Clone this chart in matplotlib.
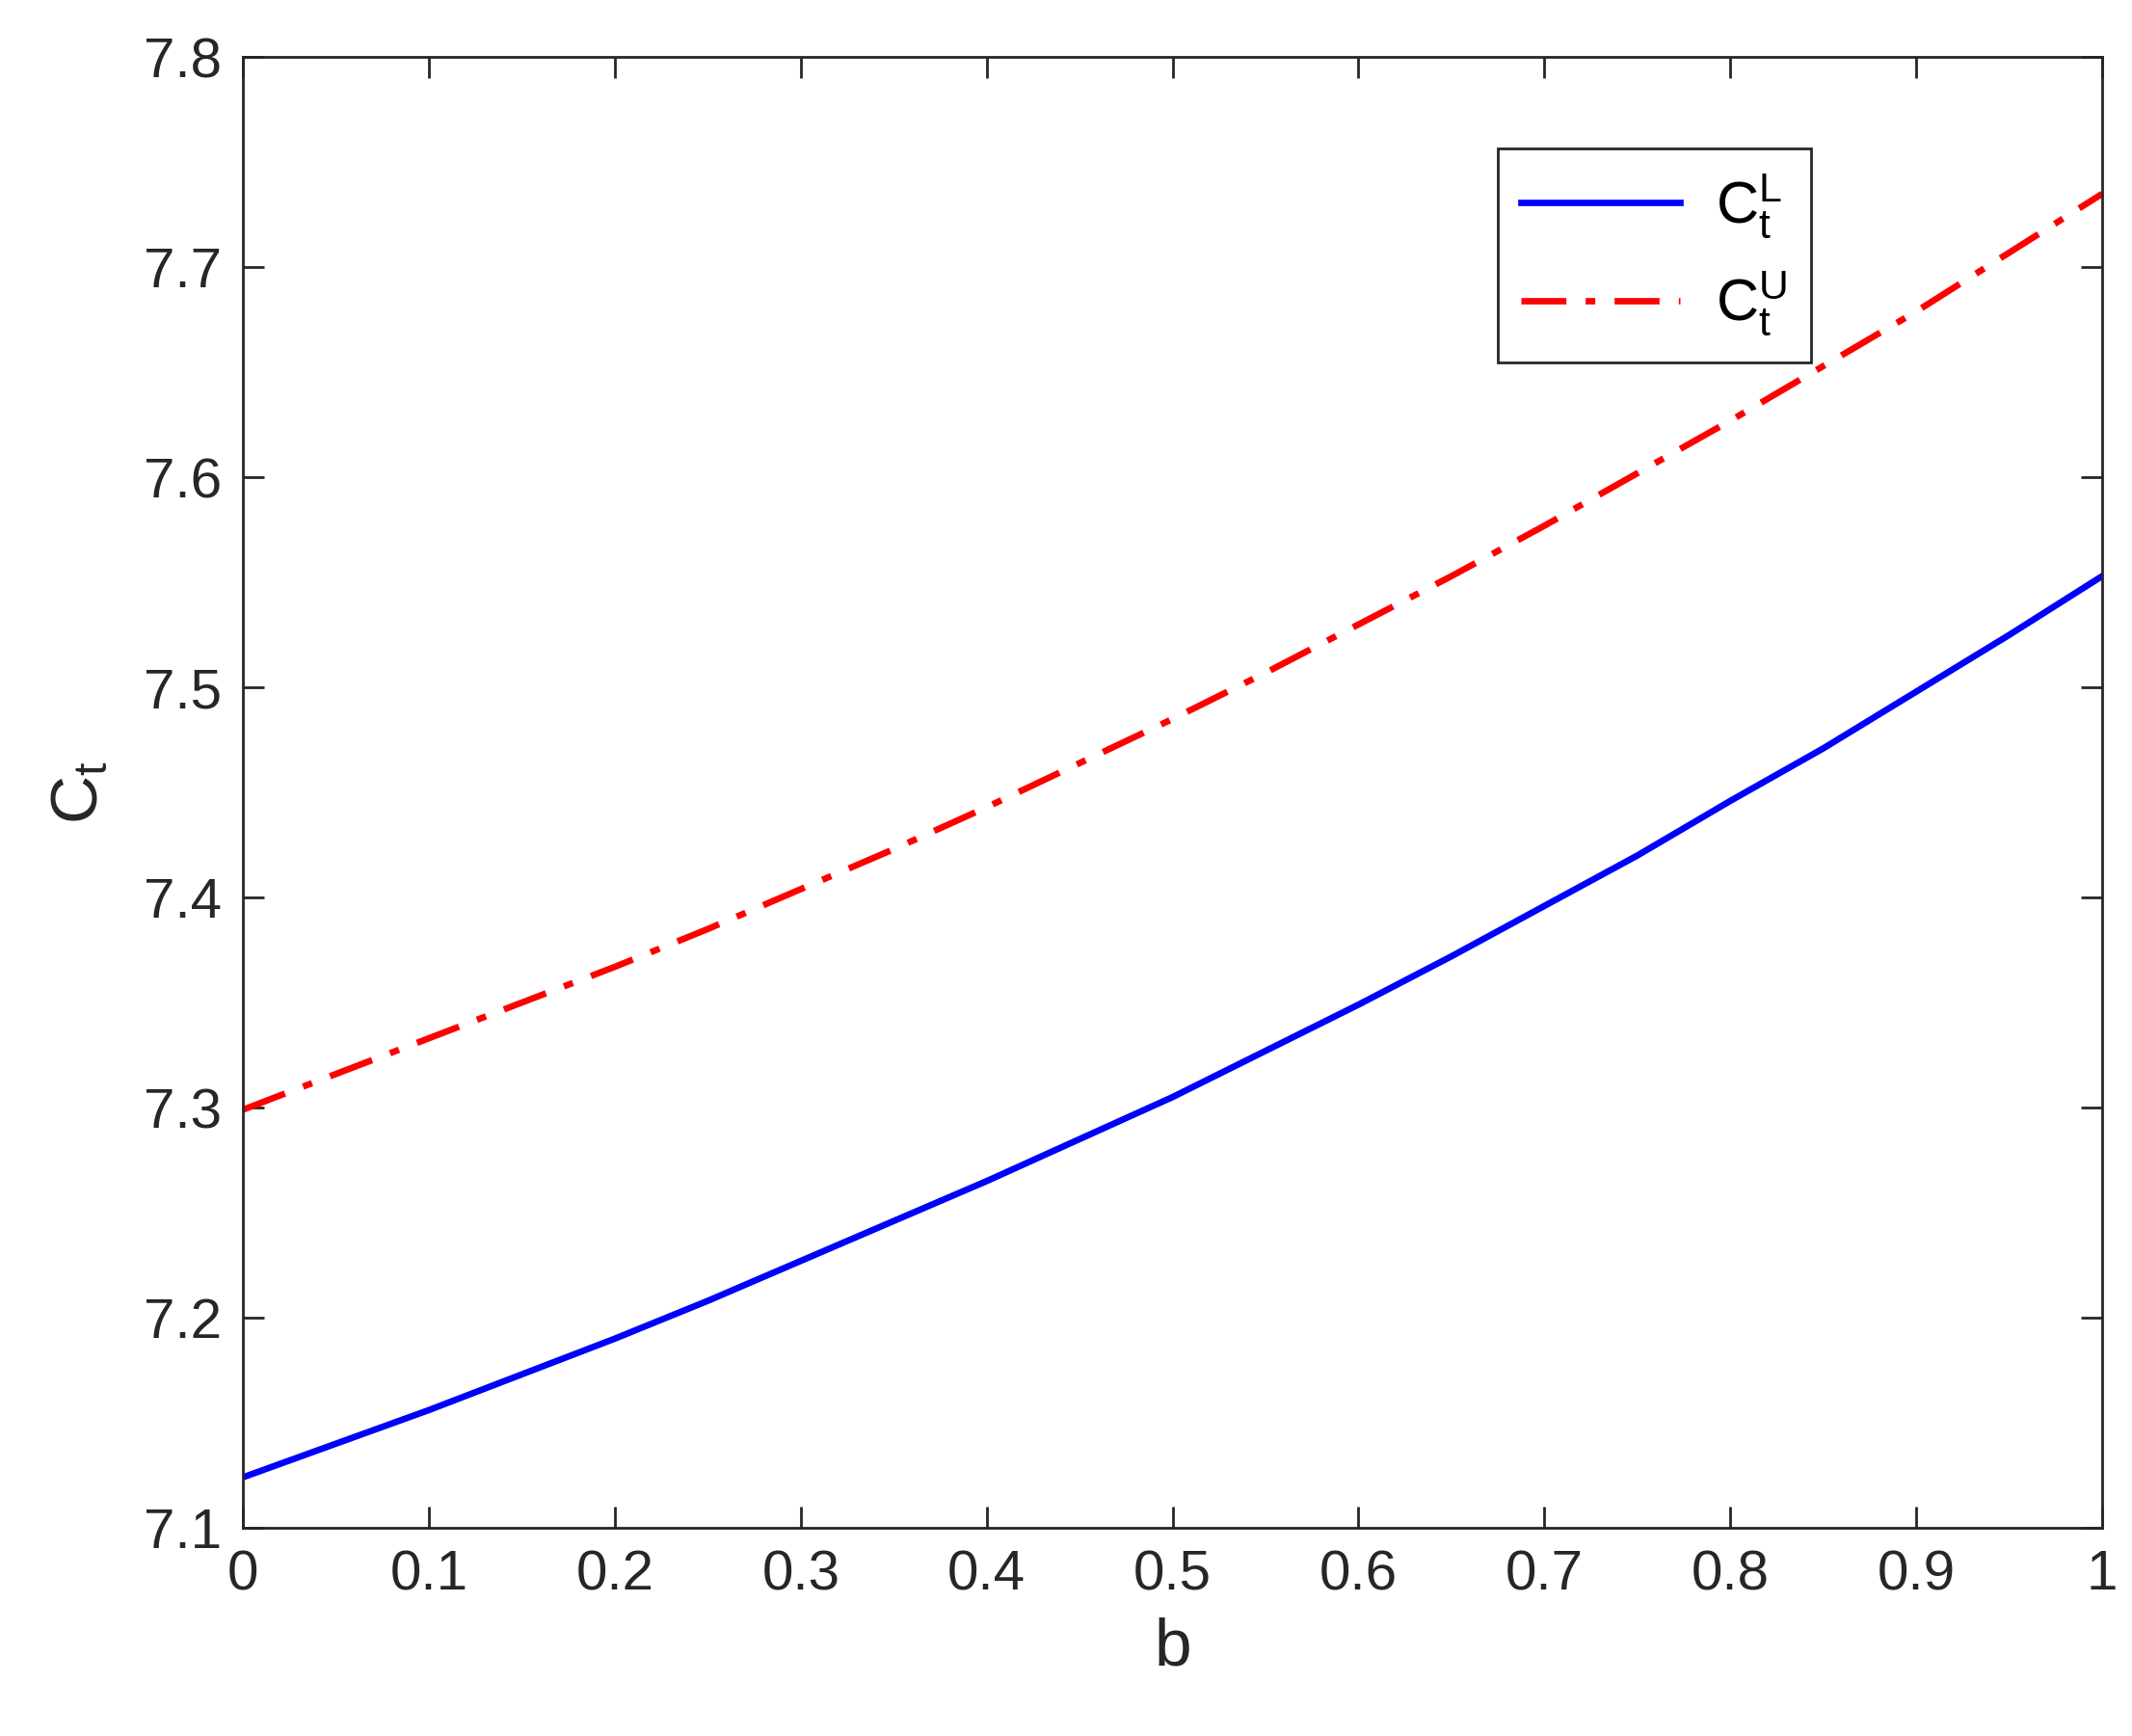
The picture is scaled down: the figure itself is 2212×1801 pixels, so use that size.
import matplotlib
matplotlib.use('Agg')
import matplotlib.pyplot as plt

plt.rcParams['font.family'] = ['Liberation Sans', 'DejaVu Sans']
plt.rcParams['mathtext.fontset'] = 'custom'
plt.rcParams['mathtext.rm'] = 'Liberation Sans'
plt.rcParams['mathtext.it'] = 'Liberation Sans'

# data
b = [0.0, 0.05, 0.1, 0.15, 0.2, 0.25, 0.3, 0.35, 0.4, 0.45, 0.5,
     0.55, 0.6, 0.65, 0.7, 0.75, 0.8, 0.85, 0.9, 0.95, 1.0]
c_lower = [7.124, 7.140, 7.156, 7.173, 7.190, 7.208, 7.227, 7.246, 7.265, 7.285, 7.305,
           7.327, 7.349, 7.372, 7.396, 7.420, 7.446, 7.471, 7.498, 7.525, 7.553]
c_upper = [7.299, 7.316, 7.333, 7.350, 7.367, 7.385, 7.404, 7.423, 7.443, 7.464, 7.485,
           7.507, 7.530, 7.553, 7.577, 7.602, 7.627, 7.653, 7.679, 7.707, 7.735]
x_ticks = [0, 0.1, 0.2, 0.3, 0.4, 0.5, 0.6, 0.7, 0.8, 0.9, 1]
x_labels = ['0', '0.1', '0.2', '0.3', '0.4', '0.5', '0.6', '0.7', '0.8', '0.9', '1']
y_ticks = [7.1, 7.2, 7.3, 7.4, 7.5, 7.6, 7.7, 7.8]

fig = plt.figure(figsize=(11.06, 9.005), dpi=200)
ax = fig.add_axes([0.114, 0.120, 0.872, 0.847])

ax.plot(b, c_lower, color='#0000ff', lw=2.4, label=r'$\mathrm{C}_\mathrm{t}^\mathrm{L}$')
ax.plot(b, c_upper, color='#ff0000', lw=2.4, ls=(0, (7, 3, 1.5, 3)),
        label=r'$\mathrm{C}_\mathrm{t}^\mathrm{U}$')

ax.set_xlim(0, 1)
ax.set_ylim(7.1, 7.8)
ax.set_xticks(x_ticks)
ax.set_xticklabels(x_labels)
ax.set_yticks(y_ticks)
ax.set_yticklabels([f'{v:.1f}' for v in y_ticks])
ax.tick_params(direction='in', top=True, right=True, length=8, width=1,
               labelsize=21, colors='#262626', pad=8)
for s in ax.spines.values():
    s.set_linewidth(1)
    s.set_color('#262626')

ax.set_xlabel('b', fontsize=25, color='#262626', labelpad=6)
ax.set_ylabel(r'$\mathrm{C}_\mathrm{t}$', fontsize=25, color='#262626', labelpad=12)

leg = ax.legend(loc='upper left', bbox_to_anchor=(0.659, 0.958), fontsize=22,
                fancybox=False, edgecolor='#262626', framealpha=1,
                handlelength=2.7, borderpad=0.4, labelspacing=0.5, handletextpad=0.6)
leg.get_frame().set_linewidth(1)

fig.savefig('out.png', dpi=200, facecolor='white')
